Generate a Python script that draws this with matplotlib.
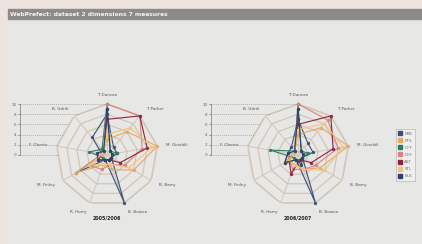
import numpy as np
import matplotlib
matplotlib.use("Agg")
import matplotlib.pyplot as plt
from matplotlib.patches import Rectangle
from matplotlib.lines import Line2D

# ---------------------------------------------------------------
# data
# ---------------------------------------------------------------
titulo = "WebPrefect: dataset 2 dimensions 7 measures"
jogadores = ["T. Duncan", "T. Parker", "M. Ginobili", "B. Barry", "B. Bowen",
             "R. Horry", "M. Finley", "F. Oberto", "B. Udrih"]
temporadas = ["2005/2006", "2006/2007"]
medidas = ["MIN", "PTS", "OFF", "DEF", "AST", "STL", "BLK"]
cores = ["#3b5078", "#e8a766", "#2b7a62", "#d9837c", "#8a2345", "#f1c67c", "#2c4468"]

valores_2005 = {
    "MIN": [8, 2, 2, 1, 10, 1, 7, 1, 4.5],
    "PTS": [3, 6, 10, 6, 3, 2, 7, 1, 1],
    "OFF": [10, 1, 2, 1, 1, 1, 1, 3.5, 1.5],
    "DEF": [10, 10, 7, 4, 2, 3, 4, 1, 1],
    "AST": [7, 10, 8, 3, 1, 1, 2, 1, 1],
    "STL": [4, 7, 9, 5, 2, 2, 4, 1, 1],
    "BLK": [9, 1, 1, 1, 1, 1, 2, 2, 1],
}
valores_2006 = {
    "MIN": [7, 3, 3, 1, 10, 1, 3, 2, 2],
    "PTS": [4, 7, 10, 5, 3, 2, 3, 1, 1],
    "OFF": [10, 1, 2, 1, 1, 1, 1, 5.5, 1],
    "DEF": [10, 9, 8, 4, 3, 3, 2, 2, 1],
    "AST": [6, 10, 7, 3, 1, 4, 2, 1, 1],
    "STL": [5, 8, 9, 6, 3, 2, 2, 1, 1],
    "BLK": [9, 1, 1, 1, 2, 1, 3, 2, 1],
}
niveis = [0, 2, 4, 6, 8, 10]

# ---------------------------------------------------------------
# layout (pixels)
# ---------------------------------------------------------------
W, H = 422, 244
raio = 51
centros = [(107, 155), (298, 155)]
esc = raio / 10.0
cor_grade = "#d3c5b6"

fig = plt.figure(figsize=(W / 100, H / 100), dpi=100, facecolor="#eee4df")

painel = fig.add_axes([8 / W, 0, 1 - 8 / W, 1 - 9 / H])
painel.set_facecolor("#e7e7e5")
painel.set_xticks([])
painel.set_yticks([])
for s in painel.spines.values():
    s.set_visible(False)

fig.patches.append(Rectangle((8 / W, 1 - 19 / H), 1 - 8 / W, 10 / H,
                             transform=fig.transFigure, color="#8e8a88", zorder=2))
fig.text(10 / W, 1 - 14.3 / H, titulo, color="#f4f4f4", fontsize=4.3,
         fontweight="bold", va="center", ha="left", zorder=3)

n = len(jogadores)
angulos = np.arange(n) * 2 * np.pi / n
ang_fech = np.append(angulos, angulos[0])

# outer ring in cartesian r-units, used for the dotted guide lines
px = 10 * np.sin(ang_fech)
py = 10 * np.cos(ang_fech)


def borda_esquerda(nivel):
    xs = []
    for i in range(n):
        y0, y1 = py[i], py[i + 1]
        if min(y0, y1) <= nivel <= max(y0, y1) and y0 != y1:
            t = (nivel - y0) / (y1 - y0)
            xs.append(px[i] + t * (px[i + 1] - px[i]))
    return min(xs) if xs else 0


for (cx, cy), temporada, dados in zip(centros, temporadas, [valores_2005, valores_2006]):
    ax = fig.add_axes([(cx - raio) / W, (H - cy - raio) / H, 2 * raio / W, 2 * raio / H],
                      projection="polar")
    ax.set_theta_zero_location("N")
    ax.set_theta_direction(-1)
    ax.set_ylim(0, 10)
    ax.set_facecolor("none")
    ax.grid(False)
    ax.spines["polar"].set_visible(False)
    ax.set_xticks([])
    ax.set_yticks([])

    for nv in niveis[1:]:
        ax.plot(ang_fech, [nv] * (n + 1), color=cor_grade,
                lw=1.2 if nv == 10 else 0.9, zorder=1)
    for a in angulos:
        ax.plot([a, a], [0, 10], color=cor_grade, lw=0.7, zorder=1)

    for m, cor in zip(medidas, cores):
        v = dados[m] + [dados[m][0]]
        ax.plot(ang_fech, v, color=cor, lw=0.85, marker="o", ms=2.4,
                markeredgewidth=0, zorder=3, clip_on=False, alpha=0.95)

    for a, nome in zip(angulos, jogadores):
        sa = np.sin(a)
        ha = "left" if sa > 0.1 else ("right" if sa < -0.1 else "center")
        ax.text(a, 11.8, nome, fontsize=3, color="#555555", ha=ha, va="center",
                clip_on=False)

    ax.text(np.pi, 12.4, temporada, fontsize=3.4, fontweight="bold", color="#222222",
            ha="center", va="center", clip_on=False)

    # radial scale on the left with dotted guides
    ex = fig.add_axes([(cx - 17 * esc) / W, (H - cy) / H, 17 * esc / W, 10 * esc / H])
    ex.set_xlim(-17, 0)
    ex.set_ylim(0, 10)
    ex.patch.set_visible(False)
    for lado in ["top", "right", "bottom"]:
        ex.spines[lado].set_visible(False)
    ex.spines["left"].set_color("#8a8a8a")
    ex.spines["left"].set_linewidth(0.6)
    ex.set_xticks([])
    ex.set_yticks(niveis)
    ex.set_yticklabels([str(nv) for nv in niveis])
    ex.tick_params(axis="y", labelsize=3, length=1.5, width=0.5, pad=1,
                   colors="#666666")
    for nv in niveis:
        ex.plot([-17, borda_esquerda(nv)], [nv, nv], color="#9a9a9a", lw=0.5,
                ls=(0, (1.5, 1.5)), clip_on=False)

alcas = [Line2D([], [], color=c, marker="s", ls="none", ms=2.2) for c in cores]
leg = fig.legend(alcas, medidas, loc="upper left", bbox_to_anchor=(394 / W, 1 - 127 / H),
                 fontsize=3, frameon=True, handlelength=0.8, handletextpad=0.6,
                 labelspacing=0.75, borderpad=0.6, fancybox=False)
leg.get_frame().set_edgecolor("#aaaaaa")
leg.get_frame().set_linewidth(0.5)
leg.get_frame().set_facecolor("#f2f2f2")
for t in leg.get_texts():
    t.set_color("#777777")

fig.savefig("out.png", dpi=100, facecolor=fig.get_facecolor())
